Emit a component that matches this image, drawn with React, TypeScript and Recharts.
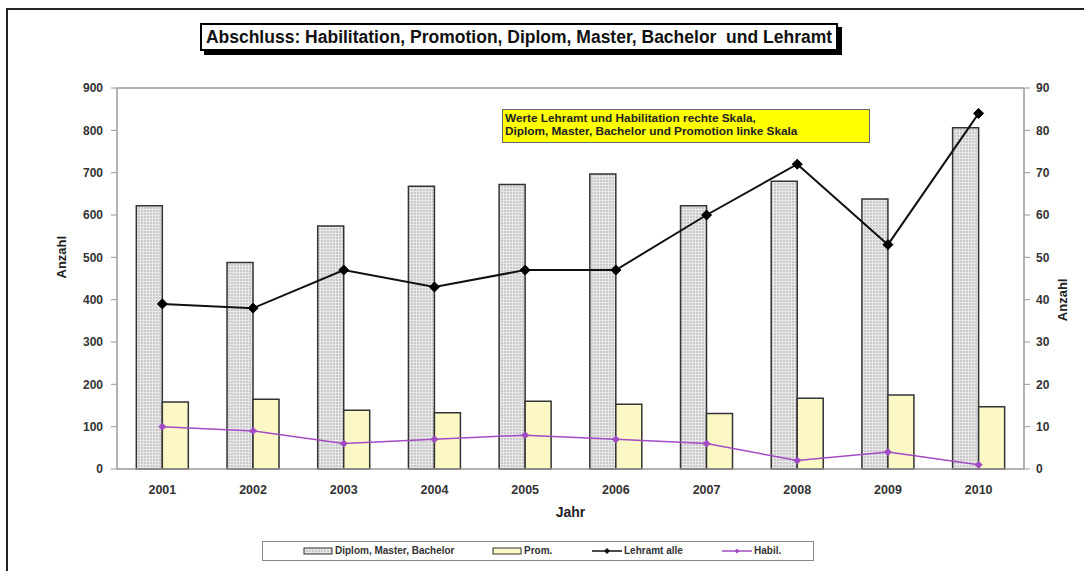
import React from "react";
import {
  ComposedChart,
  Bar,
  Line,
  XAxis,
  YAxis,
  ReferenceLine,
} from "recharts";

const years = ["2001", "2002", "2003", "2004", "2005", "2006", "2007", "2008", "2009", "2010"];
const diplomMasterBachelor = [622, 488, 574, 668, 672, 697, 622, 680, 638, 806];
const promotion = [158, 165, 139, 133, 160, 153, 131, 167, 175, 147];
const lehramt = [39, 38, 47, 43, 47, 47, 60, 72, 53, 84];
const habil = [10, 9, 6, 7, 8, 7, 6, 2, 4, 1];

const leftTicks = [0, 100, 200, 300, 400, 500, 600, 700, 800, 900];
const rightTicks = [0, 10, 20, 30, 40, 50, 60, 70, 80, 90];

const data = years.map((y, i) => ({
  year: y,
  dmb: diplomMasterBachelor[i],
  prom: promotion[i],
  lehramt: lehramt[i],
  habil: habil[i],
}));

const FONT = "Arial, 'Liberation Sans', Helvetica, sans-serif";
const PURPLE = "#a24cc4";

function Diamond(props: any) {
  const { cx, cy, size, fill } = props;
  if (cx == null || cy == null) return null;
  const s = size;
  return <path d={`M${cx},${cy - s}L${cx + s},${cy}L${cx},${cy + s}L${cx - s},${cy}Z`} fill={fill} stroke={fill} />;
}

function LegendSwatch({ fill }: { fill: string }) {
  return (
    <svg width={30} height={8} style={{ marginRight: 2 }}>
      <rect x={1} y={1} width={28} height={6} fill={fill} stroke="#333" strokeWidth={1} />
    </svg>
  );
}

function LegendLine({ color, size }: { color: string; size: number }) {
  return (
    <svg width={30} height={8} style={{ marginRight: 2 }}>
      <line x1={0} y1={4} x2={30} y2={4} stroke={color} strokeWidth={1.5} />
      <path d={`M15,${4 - size}L${15 + size},4L15,${4 + size}L${15 - size},4Z`} fill={color} />
    </svg>
  );
}

const legendItems = [
  { x: 302, label: "Diplom, Master, Bachelor", kind: "dots" },
  { x: 491, label: "Prom.", kind: "yellow" },
  { x: 591, label: "Lehramt alle", kind: "black" },
  { x: 721, label: "Habil.", kind: "purple" },
];

export default function App() {
  return (
    <div style={{ position: "relative", width: 1084, height: 571, background: "#fff", overflow: "hidden", fontFamily: FONT }}>
      <style>{"body{margin:0}"}</style>
      {/* outer frame, only left/top edges are visible in the picture */}
      <div style={{ position: "absolute", left: 6, top: 8, width: 1200, height: 700, border: "2px solid #222" }} />

      <ComposedChart
        width={1084}
        height={571}
        data={data}
        margin={{ top: 88, right: 10, left: 57, bottom: 52 }}
        barCategoryGap="21.3%"
        barGap={0}
        style={{ position: "absolute", left: 0, top: 0 }}
      >
        <defs>
          <pattern id="dots" width="3" height="3" patternUnits="userSpaceOnUse">
            <rect width="3" height="3" fill="#e8e8e8" />
            <circle cx="1" cy="1" r="0.65" fill="#8f8f8f" />
          </pattern>
        </defs>
        <XAxis
          dataKey="year"
          tick={{ fill: "#333", fontSize: 12.5, fontWeight: 700, fontFamily: FONT }}
          tickLine={false}
          axisLine={{ stroke: "#999", strokeWidth: 1.5 }}
          tickMargin={10}
          height={50}
          label={{ value: "Jahr", position: "insideBottom", offset: 2, fill: "#222", fontSize: 14, fontWeight: 700, fontFamily: FONT }}
        />
        <YAxis
          yAxisId="left"
          domain={[0, 900]}
          ticks={leftTicks}
          width={60}
          tick={{ fill: "#333", fontSize: 12, fontWeight: 700, fontFamily: FONT }}
          tickLine={{ stroke: "#999" }}
          axisLine={{ stroke: "#999", strokeWidth: 1.5 }}
          tickMargin={8}
          label={{ value: "Anzahl", angle: -90, position: "insideLeft", offset: 4, fill: "#222", fontSize: 13, fontWeight: 700, fontFamily: FONT }}
        />
        <YAxis
          yAxisId="right"
          orientation="right"
          domain={[0, 90]}
          ticks={rightTicks}
          width={50}
          tick={{ fill: "#333", fontSize: 12, fontWeight: 700, fontFamily: FONT }}
          tickLine={{ stroke: "#999" }}
          axisLine={{ stroke: "#999", strokeWidth: 1.5 }}
          tickMargin={6}
          label={{ value: "Anzahl", angle: -90, position: "insideRight", offset: 12, fill: "#222", fontSize: 13, fontWeight: 700, fontFamily: FONT }}
        />
        <ReferenceLine yAxisId="left" y={900} stroke="#999" strokeWidth={1.5} />
        <Bar yAxisId="left" dataKey="dmb" name="Diplom, Master, Bachelor" fill="url(#dots)" stroke="#333" strokeWidth={1.5} isAnimationActive={false} />
        <Bar yAxisId="left" dataKey="prom" name="Prom." fill="#fbf8c6" stroke="#333" strokeWidth={1.5} isAnimationActive={false} />
        <Line
          yAxisId="right"
          dataKey="lehramt"
          name="Lehramt alle"
          stroke="#111"
          strokeWidth={2}
          dot={(p: any) => <Diamond key={p.index} {...p} size={5} fill="#000" />}
          isAnimationActive={false}
        />
        <Line
          yAxisId="right"
          dataKey="habil"
          name="Habil."
          stroke={PURPLE}
          strokeWidth={1.5}
          dot={(p: any) => <Diamond key={p.index} {...p} size={3.5} fill={PURPLE} />}
          isAnimationActive={false}
        />
      </ComposedChart>

      {/* title box with hard shadow */}
      <div
        style={{
          position: "absolute",
          left: 200,
          top: 23,
          width: 634,
          height: 24,
          border: "2px solid #000",
          boxShadow: "4px 4px 0 #000",
          background: "#fff",
          fontSize: 17.5,
          fontWeight: 700,
          lineHeight: "24px",
          textAlign: "center",
          whiteSpace: "pre",
          color: "#111",
        }}
      >
        {"Abschluss: Habilitation, Promotion, Diplom, Master, Bachelor  und Lehramt"}
      </div>

      {/* note box */}
      <div
        style={{
          position: "absolute",
          left: 502,
          top: 109,
          width: 364,
          height: 30,
          background: "#ffff00",
          border: "1px solid #666",
          fontSize: 11.8,
          fontWeight: 700,
          lineHeight: "13px",
          color: "#222",
          padding: "2px 0 0 2px",
          boxSizing: "content-box",
          whiteSpace: "nowrap",
        }}
      >
        <div>Werte Lehramt und Habilitation rechte Skala,</div>
        <div>Diplom, Master, Bachelor und Promotion linke Skala</div>
      </div>

      {/* legend */}
      <div style={{ position: "absolute", left: 262, top: 541, width: 550, height: 18, border: "1px solid #888", background: "#fff" }}>
        {legendItems.map((it) => (
          <div
            key={it.label}
            style={{ position: "absolute", left: it.x - 262, top: 3, display: "flex", alignItems: "center", fontSize: 10, fontWeight: 700, color: "#333", whiteSpace: "nowrap" }}
          >
            {it.kind === "dots" && (
              <svg width={30} height={8} style={{ marginRight: 2 }}>
                <defs>
                  <pattern id="dotsL" width="3" height="3" patternUnits="userSpaceOnUse">
                    <rect width="3" height="3" fill="#e8e8e8" />
                    <circle cx="1" cy="1" r="0.65" fill="#8f8f8f" />
                  </pattern>
                </defs>
                <rect x={1} y={1} width={28} height={6} fill="url(#dotsL)" stroke="#333" strokeWidth={1} />
              </svg>
            )}
            {it.kind === "yellow" && <LegendSwatch fill="#fbf8c6" />}
            {it.kind === "black" && <LegendLine color="#111" size={3} />}
            {it.kind === "purple" && <LegendLine color={PURPLE} size={2.5} />}
            {it.label}
          </div>
        ))}
      </div>
    </div>
  );
}
